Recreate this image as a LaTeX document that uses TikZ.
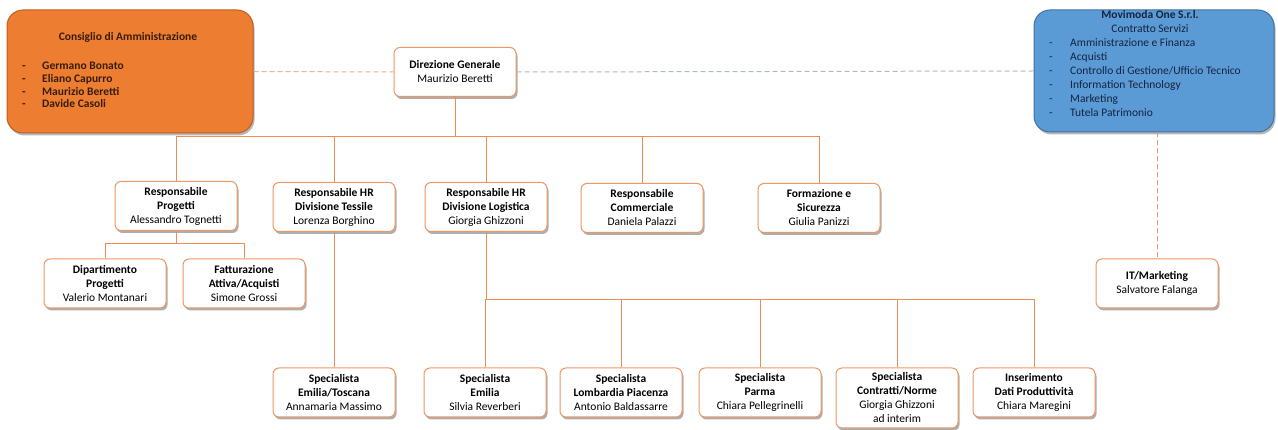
\documentclass[tikz,border=0pt]{standalone}
\usepackage{fontspec}
\setmainfont{Carlito}
\usetikzlibrary{positioning,calc,shadows}

\definecolor{cdaorange}{RGB}{237,125,49}
\definecolor{cdaborder}{RGB}{190,95,35}
\definecolor{movblue}{RGB}{91,155,213}
\definecolor{movborder}{RGB}{65,113,156}
\definecolor{boxline}{RGB}{238,150,100}
\definecolor{connline}{RGB}{237,140,85}
\definecolor{cdatext}{RGB}{55,30,12}
\definecolor{movtext}{RGB}{20,35,65}
\definecolor{movlink}{RGB}{175,185,205}

\begin{document}
\begin{tikzpicture}[
    x=1pt, y=-1pt,
    font=\fontsize{11.5}{14}\selectfont,
    unit/.style={rectangle, draw=boxline, line width=1pt, rounded corners=6pt, fill=white, align=center, minimum width=122pt, minimum height=49pt, inner sep=2pt, drop shadow={shadow xshift=1.5pt, shadow yshift=-2.5pt, opacity=0.45, fill=black!70}},
    cdabox/.style={rectangle, draw=cdaborder, line width=1pt, fill=cdaorange, rounded corners=16pt, minimum width=246pt, minimum height=123pt, drop shadow={shadow xshift=1.5pt, shadow yshift=-2.5pt, opacity=0.4, fill=black!70}},
    movbox/.style={rectangle, draw=movborder, line width=1pt, fill=movblue, rounded corners=16pt, minimum width=240pt, minimum height=122pt, drop shadow={shadow xshift=1.5pt, shadow yshift=-2.5pt, opacity=0.4, fill=black!70}},
    cdalist/.style={font=\fontsize{11.5}{12.8}\selectfont\bfseries, text=cdatext, align=left, inner sep=0pt},
    movlist/.style={font=\fontsize{11.5}{14}\selectfont, text=movtext, align=left, inner sep=0pt},
    conn/.style={draw=connline, line width=1pt},
    link/.style={dashed, dash pattern=on 5pt off 3pt, line width=1pt}
]
\useasboundingbox (0,0) rectangle (1278,430);

% Top row
\node[cdabox] (cda) at (130,71.5) {};
\node[cdalist, align=center] (cda_title) at (128,37) {Consiglio di Amministrazione};
\node[cdalist, anchor=west] (cda_list) at (22,85) {
    \makebox[20pt][l]{-}Germano Bonato\\
    \makebox[20pt][l]{-}Eliano Capurro\\
    \makebox[20pt][l]{-}Maurizio Beretti\\
    \makebox[20pt][l]{-}Davide Casoli
};

\node[unit] (dg) at (455,72) {\textbf{Direzione Generale}\\Maurizio Beretti};

\node[movbox] (movi) at (1154,71) {};
\node[movlist, align=center] (movi_title) at (1150,22) {\textbf{Movimoda One S.r.l.}\\Contratto Servizi};
\node[movlist, anchor=west] (movi_list) at (1049,78) {
    \makebox[21pt][l]{-}Amministrazione e Finanza\\
    \makebox[21pt][l]{-}Acquisti\\
    \makebox[21pt][l]{-}Controllo di Gestione/Ufficio Tecnico\\
    \makebox[21pt][l]{-}Information Technology\\
    \makebox[21pt][l]{-}Marketing\\
    \makebox[21pt][l]{-}Tutela Patrimonio
};

\draw[link, draw=connline!70] (cda.east) -- (dg.west);
\draw[link, draw=movlink] (dg.east) -- (movi.west);

% Level 1
\node[unit] (resp_prog) at (176,206) {\textbf{Responsabile}\\\textbf{Progetti}\\Alessandro Tognetti};
\node[unit] (hr_tess) at (334,207) {\textbf{Responsabile HR}\\\textbf{Divisione Tessile}\\Lorenza Borghino};
\node[unit] (hr_log) at (486,207) {\textbf{Responsabile HR}\\\textbf{Divisione Logistica}\\Giorgia Ghizzoni};
\node[unit] (comm) at (642,208) {\textbf{Responsabile}\\\textbf{Commerciale}\\Daniela Palazzi};
\node[unit] (form) at (819,208) {\textbf{Formazione e}\\\textbf{Sicurezza}\\Giulia Panizzi};

\foreach \n in {resp_prog,hr_tess,hr_log,comm,form}
    \draw[conn] (dg.south) -- ++(0,40) -| (\n.north);

% Progetti
\node[unit] (dip_prog) at (105,283.5) {\textbf{Dipartimento}\\\textbf{Progetti}\\Valerio Montanari};
\node[unit] (fatt) at (244,283.5) {\textbf{Fatturazione}\\\textbf{Attiva/Acquisti}\\Simone Grossi};

\foreach \n in {dip_prog,fatt}
    \draw[conn] (resp_prog.south) -- ++(0,13) -| (\n.north);

% Specialisti
\node[unit] (spec_emtosc) at (334,392.5) {\textbf{Specialista}\\\textbf{Emilia/Toscana}\\Annamaria Massimo};
\node[unit] (spec_em) at (485,392.5) {\textbf{Specialista}\\\textbf{Emilia}\\Silvia Reverberi};
\node[unit] (spec_lomb) at (621,392.5) {\textbf{Specialista}\\\textbf{Lombardia Piacenza}\\Antonio Baldassarre};
\node[unit] (spec_parma) at (760,392.5) {\textbf{Specialista}\\\textbf{Parma}\\Chiara Pellegrinelli};
\node[unit, minimum height=60pt] (spec_contr) at (897,398) {\textbf{Specialista}\\\textbf{Contratti/Norme}\\Giorgia Ghizzoni\\ad interim};
\node[unit] (ins_dati) at (1034,392.5) {\textbf{Inserimento}\\\textbf{Dati Produttività}\\Chiara Maregini};

\draw[conn] (hr_tess.south) -- (spec_emtosc.north);
\foreach \n in {spec_em,spec_lomb,spec_parma,spec_contr,ins_dati}
    \draw[conn] (hr_log.south) -- ++(0,68) -| (\n.north);

% Service contract
\node[unit] (it_mkt) at (1157,283.5) {\textbf{IT/Marketing}\\Salvatore Falanga};
\draw[link, draw=connline!80!black!70] (movi.south -| it_mkt.north) -- (it_mkt.north);

\end{tikzpicture}
\end{document}
